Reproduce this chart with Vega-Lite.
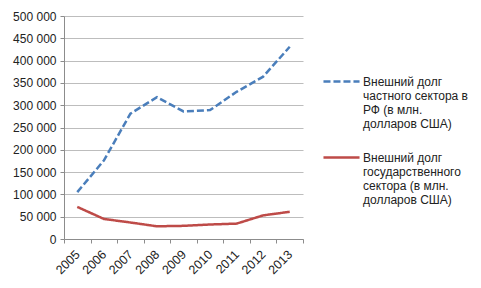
{
  "$schema": "https://vega.github.io/schema/vega-lite/v6.json",
  "width": 239,
  "height": 223,
  "autosize": {"type": "none"},
  "padding": {"left": 64, "top": 16, "right": 178, "bottom": 49},
  "background": "white",
  "config": {
    "font": "Liberation Sans",
    "view": {"stroke": null},
    "axis": {"labelFont": "Liberation Sans", "labelFontSize": 12, "labelColor": "#222222", "domainColor": "#8c8c8c", "tickColor": "#8c8c8c", "gridColor": "#bdbdbd"}
  },
  "data": {
    "values": [
      {"year": "2005", "series": "private", "value": 105000},
      {"year": "2006", "series": "private", "value": 176000},
      {"year": "2007", "series": "private", "value": 281000},
      {"year": "2008", "series": "private", "value": 318000},
      {"year": "2009", "series": "private", "value": 286000},
      {"year": "2010", "series": "private", "value": 289000},
      {"year": "2011", "series": "private", "value": 330000},
      {"year": "2012", "series": "private", "value": 364000},
      {"year": "2013", "series": "private", "value": 431000},
      {"year": "2005", "series": "state", "value": 72000},
      {"year": "2006", "series": "state", "value": 45000},
      {"year": "2007", "series": "state", "value": 37000},
      {"year": "2008", "series": "state", "value": 28500},
      {"year": "2009", "series": "state", "value": 29500},
      {"year": "2010", "series": "state", "value": 32500},
      {"year": "2011", "series": "state", "value": 34500},
      {"year": "2012", "series": "state", "value": 53000},
      {"year": "2013", "series": "state", "value": 61000}
    ]
  },
  "mark": {"type": "line", "strokeWidth": 2.5},
  "encoding": {
    "x": {
      "field": "year", "type": "ordinal",
      "scale": {"type": "band", "paddingInner": 0, "paddingOuter": 0},
      "axis": {"title": null, "labelAngle": -45, "labelAlign": "right", "labelBaseline": "middle", "tickBand": "extent", "grid": false, "tickSize": 4, "labelPadding": 9, "labelFontSize": 12.5}
    },
    "y": {
      "field": "value", "type": "quantitative",
      "scale": {"domain": [0, 500000]},
      "axis": {"title": null, "values": [0, 50000, 100000, 150000, 200000, 250000, 300000, 350000, 400000, 450000, 500000], "labelExpr": "replace(format(datum.value, ','), /,/g, ' ')", "tickSize": 4, "labelPadding": 4, "grid": true}
    },
    "color": {
      "field": "series", "type": "nominal",
      "scale": {"domain": ["private", "state"], "range": ["#4a7ebb", "#be4b48"]},
      "legend": {
        "title": null, "orient": "none", "legendX": 258, "legendY": 46,
        "symbolType": "stroke", "symbolSize": 1300, "symbolStrokeWidth": 2.5,
        "labelFont": "Liberation Sans", "labelFontSize": 12, "labelColor": "#222222", "labelLimit": 300,
        "labelLineHeight": 16, "labelOffset": 2, "rowPadding": 8,
        "labelExpr": "datum.value == 'private' ? ['Внешний долг', 'частного сектора в', 'РФ (в млн.', 'долларов США)'] : ['Внешний долг', 'государственного', 'сектора (в млн.', 'долларов США)']"
      }
    },
    "strokeDash": {
      "field": "series", "type": "nominal",
      "scale": {"domain": ["private", "state"], "range": [[7, 3], [1, 0]]},
      "legend": {
        "title": null, "orient": "none", "legendX": 258, "legendY": 46,
        "symbolType": "stroke", "symbolSize": 1300, "symbolStrokeWidth": 2.5,
        "labelFont": "Liberation Sans", "labelFontSize": 12, "labelColor": "#222222", "labelLimit": 300,
        "labelLineHeight": 16, "labelOffset": 2, "rowPadding": 8,
        "labelExpr": "datum.value == 'private' ? ['Внешний долг', 'частного сектора в', 'РФ (в млн.', 'долларов США)'] : ['Внешний долг', 'государственного', 'сектора (в млн.', 'долларов США)']"
      }
    }
  }
}
